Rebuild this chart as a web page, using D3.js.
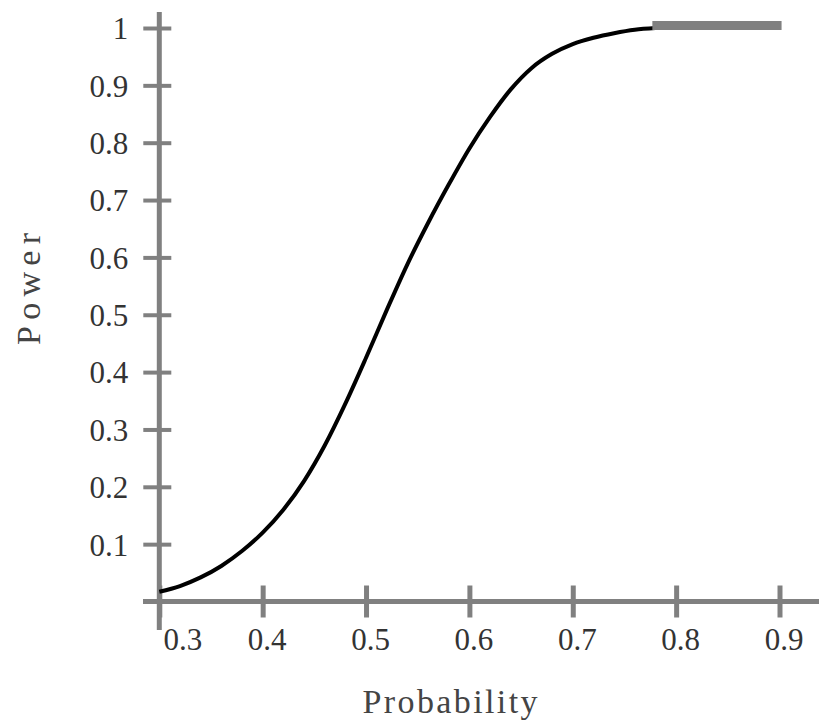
<!DOCTYPE html>
<html><head><meta charset="utf-8">
<script src="https://cdn.jsdelivr.net/npm/d3@7"></script>
<style>html,body{margin:0;padding:0;background:#fff;}svg{display:block;}</style>
</head><body>
<svg id="chart" width="819" height="720"></svg>
<script>
const probability = [0.30,0.32,0.34,0.36,0.38,0.40,0.42,0.44,0.46,0.48,0.50,0.52,0.54,0.56,0.58,0.60,0.62,0.64,0.66,0.68,0.70,0.72,0.74,0.76,0.78];
const power =       [0.017,0.027,0.042,0.062,0.088,0.120,0.160,0.210,0.272,0.345,0.425,0.508,0.588,0.660,0.727,0.790,0.845,0.893,0.930,0.955,0.972,0.983,0.991,0.997,1.0];
const flatProbability = [0.777,0.902];
const flatPower = [1.0,1.0];
const xTicks = [0.3,0.4,0.5,0.6,0.7,0.8,0.9];
const yTicks = [0.1,0.2,0.3,0.4,0.5,0.6,0.7,0.8,0.9,1];
const xTitle = "Probability";
const yTitle = "Power";

const svg = d3.select("#chart");
const x = d3.scaleLinear().domain([0.3,0.9]).range([159.3,779.5]);
const y = d3.scaleLinear().domain([0,1]).range([601.5,28]);
const gray = "#808080";
const font = "'Liberation Serif', 'Times New Roman', serif";

// axis lines
svg.append("line").attr("x1",x(0.3)).attr("x2",x(0.3)).attr("y1",12).attr("y2",630)
  .attr("stroke",gray).attr("stroke-width",5);
svg.append("line").attr("x1",143).attr("x2",819).attr("y1",y(0)).attr("y2",y(0))
  .attr("stroke",gray).attr("stroke-width",5);

// y ticks
const yAxis = d3.axisLeft(y).tickValues(yTicks).tickSize(0).tickFormat(d=>d===1?"1":d3.format(".1f")(d));
const gy = svg.append("g").attr("transform",`translate(${x(0.3)},0)`).call(yAxis);
gy.select(".domain").remove();
gy.selectAll(".tick text").attr("x",-31).attr("dy","0.35em")
  .attr("font-family",font).attr("font-size",31).attr("fill","#333");
gy.selectAll(".tick").append("line").attr("x1",-16).attr("x2",12).attr("y1",0).attr("y2",0)
  .attr("stroke",gray).attr("stroke-width",4);

// x ticks
const xAxis = d3.axisBottom(x).tickValues(xTicks).tickSize(0).tickFormat(d3.format(".1f"));
const gx = svg.append("g").attr("transform",`translate(0,${y(0)})`).call(xAxis);
gx.select(".domain").remove();
gx.selectAll(".tick text").attr("y",26).attr("dy","0.71em")
  .attr("font-family",font).attr("font-size",31).attr("fill","#333")
  .attr("dx",(d,i)=>i===0?23:4);
gx.selectAll(".tick").append("line").attr("x1",0).attr("x2",0).attr("y1",-16).attr("y2",16)
  .attr("stroke",gray).attr("stroke-width",5);

// curve
const pts = probability.map((p,i)=>[p,power[i]]);
const line = d3.line().x(d=>x(d[0])).y(d=>y(d[1])).curve(d3.curveMonotoneX);
svg.append("path").attr("d",line(pts)).attr("fill","none").attr("stroke","#000").attr("stroke-width",4);

const flat = flatProbability.map((p,i)=>[p,flatPower[i]]);
svg.append("path").attr("d",d3.line().x(d=>x(d[0])).y(d=>y(d[1]))(flat))
  .attr("transform","translate(0,-2.5)")
  .attr("fill","none").attr("stroke",gray).attr("stroke-width",9);

// titles
svg.append("text").attr("x",450).attr("y",713).attr("text-anchor","middle")
  .attr("font-family",font).attr("font-size",34).attr("fill","#444")
  .attr("textLength",175).attr("lengthAdjust","spacing").text(xTitle);
svg.append("text").attr("transform","translate(40,289) rotate(-90)").attr("text-anchor","middle")
  .attr("font-family",font).attr("font-size",34).attr("fill","#444")
  .attr("textLength",112).attr("lengthAdjust","spacing").text(yTitle);
</script>
</body></html>
